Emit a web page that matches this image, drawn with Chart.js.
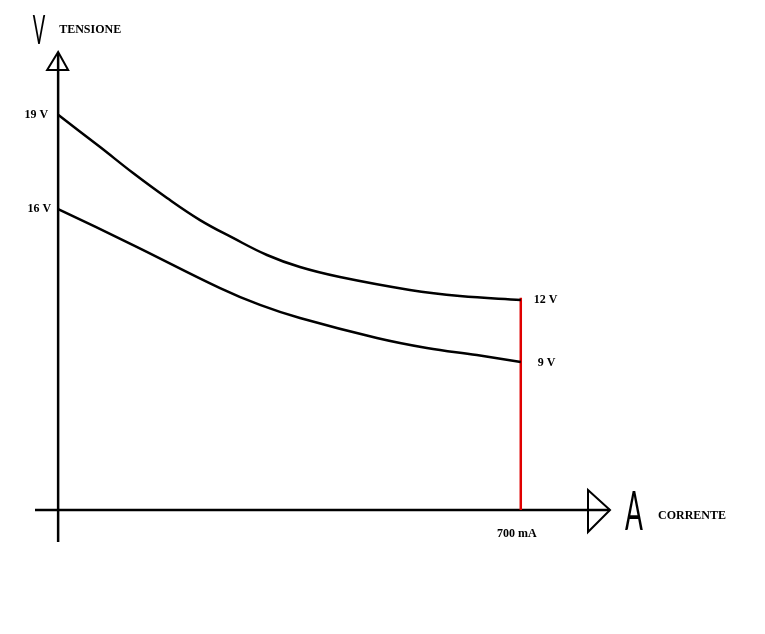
<!DOCTYPE html>
<html>
<head>
<meta charset="utf-8">
<script src="https://cdn.jsdelivr.net/npm/chart.js@4/dist/chart.umd.min.js"></script>
<style>
  html, body { margin: 0; padding: 0; background: #ffffff; }
  #wrap { width: 765px; height: 634px; }
</style>
</head>
<body>
<div id="wrap"><canvas id="c" width="765" height="634"></canvas></div>
<script>
// ---- Data (current in mA, voltage in V as drawn) ----
const upperCurrent = [0, 63.5, 113.4, 164.8, 214.7, 264.6, 316, 365.9, 426.4, 532.2, 607.8, 700];
const upperVoltage = [19, 17.45, 16.2, 15.0, 13.94, 13.08, 12.26, 11.68, 11.2, 10.58, 10.29, 10.1];
const lowerCurrent = [0, 113.4, 245, 305.4, 365.9, 482.3, 557.9, 633.5, 700];
const lowerVoltage = [14.47, 12.74, 10.67, 9.86, 9.23, 8.27, 7.79, 7.45, 7.12];
const limitCurrent = 700;
const startLabels = ['19 V', '16 V'];
const endLabels = ['12 V', '9 V'];
const limitLabel = '700 mA';
const yTitle = 'TENSIONE';
const xTitle = 'CORRENTE';
const yUnit = 'V';
const xUnit = 'A';

const toPoints = (xs, ys) => xs.map((x, i) => ({ x: x, y: ys[i] }));
const upperPts = toPoints(upperCurrent, upperVoltage);
const lowerPts = toPoints(lowerCurrent, lowerVoltage);
const limitPts = [{ x: limitCurrent, y: upperVoltage[upperVoltage.length - 1] + 0.1 }, { x: limitCurrent, y: 0 }];

const LABEL_FONT = 'bold 12px "Liberation Serif", "Times New Roman", serif';

const drawingPlugin = {
  id: 'drawing',
  beforeDatasetsDraw(chart) {
    const { ctx, scales: { x, y }, chartArea } = chart;
    const x0 = x.getPixelForValue(0);
    const y0 = y.getPixelForValue(0);
    ctx.save();
    ctx.strokeStyle = '#000';
    ctx.lineWidth = 2.5;
    // y axis
    ctx.beginPath();
    ctx.moveTo(x0, chartArea.top + 2);
    ctx.lineTo(x0, chartArea.bottom);
    ctx.stroke();
    // x axis
    ctx.beginPath();
    ctx.moveTo(chartArea.left, y0);
    ctx.lineTo(chartArea.right, y0);
    ctx.stroke();
    ctx.lineWidth = 2;
    // y arrow head (open triangle)
    ctx.beginPath();
    ctx.moveTo(x0, chartArea.top);
    ctx.lineTo(x0 - 11, chartArea.top + 18);
    ctx.lineTo(x0 + 10, chartArea.top + 18);
    ctx.closePath();
    ctx.stroke();
    // x arrow head (open triangle)
    ctx.beginPath();
    ctx.moveTo(chartArea.right, y0);
    ctx.lineTo(chartArea.right - 22, y0 - 20);
    ctx.lineTo(chartArea.right - 22, y0 + 22);
    ctx.closePath();
    ctx.stroke();
    ctx.restore();
  },
  afterDatasetsDraw(chart) {
    const { ctx, scales: { x, y }, chartArea } = chart;
    const x0 = x.getPixelForValue(0);
    const y0 = y.getPixelForValue(0);
    ctx.save();
    ctx.fillStyle = '#000';
    ctx.font = LABEL_FONT;
    ctx.textBaseline = 'middle';
    // start labels
    ctx.textAlign = 'right';
    ctx.fillText(startLabels[0], x0 - 10, y.getPixelForValue(upperVoltage[0]));
    ctx.fillText(startLabels[1], x0 - 7, y.getPixelForValue(lowerVoltage[0]));
    // end labels
    ctx.textAlign = 'left';
    ctx.fillText(endLabels[0], x.getPixelForValue(upperCurrent[upperCurrent.length - 1]) + 13, y.getPixelForValue(upperVoltage[upperVoltage.length - 1]));
    ctx.fillText(endLabels[1], x.getPixelForValue(lowerCurrent[lowerCurrent.length - 1]) + 17, y.getPixelForValue(lowerVoltage[lowerVoltage.length - 1]) + 1);
    // limit label
    ctx.textAlign = 'center';
    ctx.fillText(limitLabel, x.getPixelForValue(limitCurrent) - 4, y0 + 24);
    // axis titles
    ctx.textAlign = 'left';
    ctx.fillText(yTitle, x0 + 1, 30);
    ctx.fillText(xTitle, chartArea.right + 48, y0 + 6);
    // unit letters, tall and thin
    ctx.textAlign = 'center';
    ctx.textBaseline = 'alphabetic';
    ctx.font = '400 41px Lato, "DejaVu Sans", sans-serif';
    ctx.save();
    ctx.translate(39, 44);
    ctx.scale(0.45, 1);
    ctx.fillText(yUnit, 0, 0);
    ctx.restore();
    ctx.font = '400 55px Lato, "DejaVu Sans", sans-serif';
    ctx.save();
    ctx.translate(634, 530);
    ctx.scale(0.48, 1);
    ctx.fillText(xUnit, 0, 0);
    ctx.restore();
    ctx.restore();
  }
};

new Chart(document.getElementById('c'), {
  type: 'line',
  data: {
    datasets: [
      { data: upperPts, borderColor: '#000', borderWidth: 2.5, pointRadius: 0, tension: 0.4, fill: false },
      { data: lowerPts, borderColor: '#000', borderWidth: 2.5, pointRadius: 0, tension: 0.4, fill: false },
      { data: limitPts, borderColor: '#e00000', borderWidth: 2.5, pointRadius: 0, fill: false }
    ]
  },
  options: {
    responsive: false,
    animation: false,
    layout: { padding: { left: 35, right: 155, top: 52, bottom: 92 } },
    plugins: { legend: { display: false }, tooltip: { enabled: false }, title: { display: false } },
    scales: {
      x: { type: 'linear', min: -35, max: 835, display: false },
      y: { type: 'linear', min: -1.538, max: 22.02, display: false }
    }
  },
  plugins: [drawingPlugin]
});
</script>
</body>
</html>
